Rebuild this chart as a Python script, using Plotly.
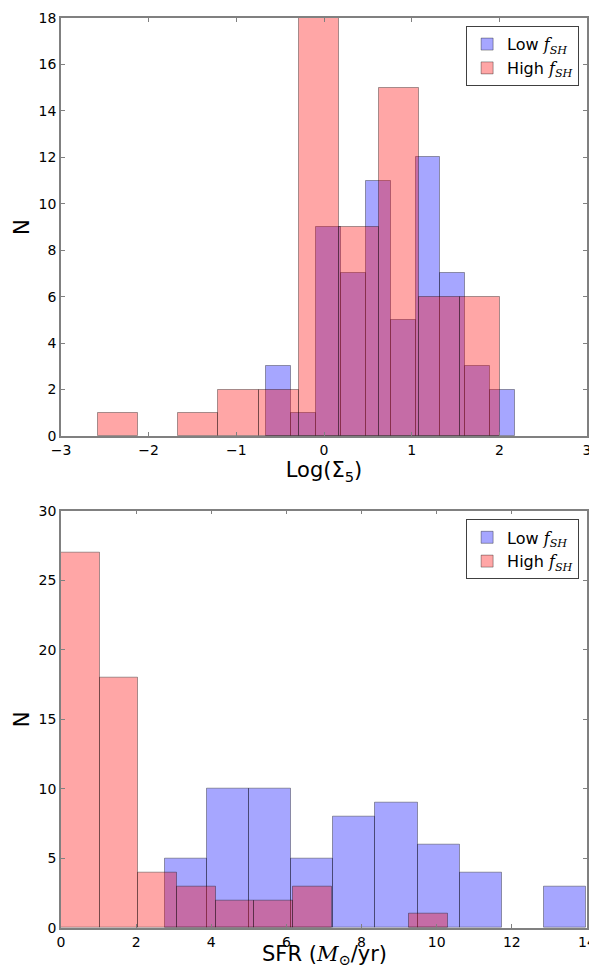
import plotly.graph_objs as go
from plotly.subplots import make_subplots

# top panel: Log(Sigma_5), bin edges and counts
sigma_low_edges = [-0.658, -0.374, -0.090, 0.193, 0.477, 0.761, 1.045, 1.328, 1.612, 1.896, 2.180]
sigma_low_counts = [3, 1, 9, 7, 11, 5, 12, 7, 3, 2]
sigma_high_edges = [-2.583, -2.124, -1.665, -1.206, -0.747, -0.288, 0.171, 0.630, 1.089, 1.548, 2.007]
sigma_high_counts = [1, 0, 1, 2, 2, 18, 9, 15, 6, 6]

# bottom panel: SFR
sfr_low_edges = [2.77, 3.89, 5.01, 6.13, 7.25, 8.37, 9.49, 10.61, 11.73, 12.85, 13.97]
sfr_low_counts = [5, 10, 10, 5, 8, 9, 6, 4, 0, 3]
sfr_high_edges = [0.0, 1.03, 2.06, 3.09, 4.12, 5.15, 6.18, 7.21, 8.24, 9.27, 10.30]
sfr_high_counts = [27, 18, 4, 3, 2, 2, 3, 0, 0, 1]

LOW = 'rgba(0,0,255,0.35)'
HIGH = 'rgba(255,0,0,0.35)'
EDGE = 'rgba(0,0,0,0.35)'
FSH = '<span style="font-family:DejaVu Serif"><i>f</i><sub><i>SH</i></sub></span>'


def hist_bars(edges, counts, color, name, legend):
    lefts = edges[:-1]
    widths = [edges[i + 1] - edges[i] for i in range(len(counts))]
    # empty bins: nothing drawn (avoid an edge line sitting on the axis)
    heights = [c if c > 0 else None for c in counts]
    return go.Bar(x=lefts, y=heights, width=widths, offset=0,
                  marker=dict(color=color, line=dict(color=EDGE, width=1)),
                  name=name, legend=legend)


fig = make_subplots(rows=2, cols=1)
fig.add_trace(hist_bars(sigma_low_edges, sigma_low_counts, LOW, 'Low ' + FSH, 'legend'), row=1, col=1)
fig.add_trace(hist_bars(sigma_high_edges, sigma_high_counts, HIGH, 'High ' + FSH, 'legend'), row=1, col=1)
fig.add_trace(hist_bars(sfr_low_edges, sfr_low_counts, LOW, 'Low ' + FSH, 'legend2'), row=2, col=1)
fig.add_trace(hist_bars(sfr_high_edges, sfr_high_counts, HIGH, 'High ' + FSH, 'legend2'), row=2, col=1)

axis_style = dict(showline=True, linecolor='#808080', linewidth=1.5, mirror='allticks',
                  ticks='inside', ticklen=4, tickcolor='#808080', showgrid=False, zeroline=False,
                  automargin=False, ticklabeloverflow='allow',
                  tickfont=dict(size=14, color='black'))

fig.update_xaxes(axis_style)
fig.update_yaxes(axis_style)

fig.update_xaxes(range=[-3, 3], dtick=1, row=1, col=1,
                 title=dict(text='Log(Σ<sub>5</sub>)', font=dict(size=21), standoff=6))
fig.update_yaxes(range=[0, 18], dtick=2, row=1, col=1)
fig.update_xaxes(range=[0, 14], dtick=2, row=2, col=1)
fig.update_yaxes(range=[0, 30], dtick=5, row=2, col=1)

# axis titles placed as annotations so they sit in the margins like the original
for ax in ['y', 'y2']:
    fig.add_annotation(text='N', xref='x domain' if ax == 'y' else 'x2 domain', yref=ax + ' domain',
                       x=0, y=0.5, xanchor='center', xshift=-39, textangle=-90,
                       showarrow=False, font=dict(size=21))
fig.add_annotation(text='SFR (<span style="font-family:DejaVu Serif"><i>M</i><sub>⊙</sub></span>/yr)',
                   xref='x2 domain', yref='y2 domain', x=0.5, y=0, yanchor='middle', yshift=-27,
                   showarrow=False, font=dict(size=21))

# page body adds an 8px margin, so the figure is sized to the window minus that
fig.update_layout(
    width=581, height=959,
    margin=dict(l=53, r=2, t=10, b=39),
    barmode='overlay',
    plot_bgcolor='white',
    paper_bgcolor='white',
    font=dict(family='DejaVu Sans', color='black'),
    xaxis=dict(domain=[0, 1]),
    yaxis=dict(domain=[0.5407, 1]),
    xaxis2=dict(domain=[0, 1]),
    yaxis2=dict(domain=[0, 0.4586]),
    legend=dict(x=0.985, y=0.991, xanchor='right', yanchor='top',
                bordercolor='#404040', borderwidth=1, bgcolor='white',
                font=dict(size=16), tracegroupgap=2),
    legend2=dict(x=0.985, y=0.449, xanchor='right', yanchor='top',
                 bordercolor='#404040', borderwidth=1, bgcolor='white',
                 font=dict(size=16), tracegroupgap=2),
    bargap=0,
)

fig.write_html("out.html")
